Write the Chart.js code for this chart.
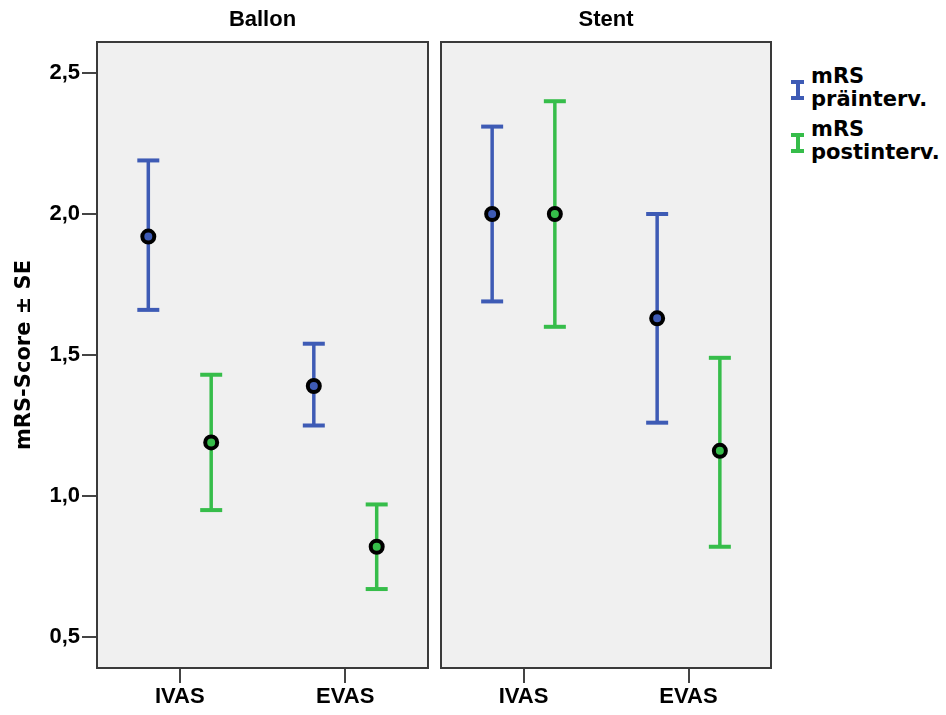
<!DOCTYPE html>
<html>
<head>
<meta charset="utf-8">
<script src="https://cdn.jsdelivr.net/npm/chart.js@4/dist/chart.umd.min.js"></script>
<style>
    body { margin: 0; background: #fff; }
    #wrap { position: relative; width: 946px; height: 715px; }
    canvas { position: absolute; top: 0; }
    #legend { position: absolute; left: 791px; top: 65px; font-family: "DejaVu Sans", Verdana, sans-serif; font-weight: bold; font-size: 21px; line-height: 23px; color: #000; }
    .item { display: flex; margin-bottom: 7px; }
    .icon { position: relative; width: 13px; height: 20px; margin-top: 15px; margin-right: 7px; flex: none; }
    .icon::before { content: ''; position: absolute; left: 0; right: 0; top: 0; height: 4px; background: currentColor; box-shadow: 0 16px 0 currentColor; }
    .icon::after { content: ''; position: absolute; left: 4.5px; width: 4px; top: 0; bottom: 0; background: currentColor; }
</style>
</head>
<body>
<div id="wrap">
    <canvas id="ballonChart" width="432" height="715" style="left:0"></canvas>
    <canvas id="stentChart" width="338" height="715" style="left:437px"></canvas>
    <div id="legend">
        <div class="item"><span class="icon" style="color:#3e5bb5"></span><span>mRS<br>präinterv.</span></div>
        <div class="item"><span class="icon" style="color:#36bd4a"></span><span>mRS<br>postinterv.</span></div>
    </div>
</div>
<script>
const categories = ['IVAS', 'EVAS'];
const panelTitles = ['Ballon', 'Stent'];
const yTicks = [0.5, 1.0, 1.5, 2.0, 2.5];

// Ballon: mean and mean ± SE per category
const ballonPreMean = [1.92, 1.39];
const ballonPreLow = [1.66, 1.25];
const ballonPreHigh = [2.19, 1.54];
const ballonPostMean = [1.19, 0.82];
const ballonPostLow = [0.95, 0.67];
const ballonPostHigh = [1.43, 0.97];

// Stent
const stentPreMean = [2.00, 1.63];
const stentPreLow = [1.69, 1.26];
const stentPreHigh = [2.31, 2.00];
const stentPostMean = [2.00, 1.16];
const stentPostLow = [1.60, 0.82];
const stentPostHigh = [2.40, 1.49];

const preColor = '#3e5bb5';
const postColor = '#36bd4a';
const tickFamily = '"Liberation Sans", Arial, sans-serif';
const titleFamily = '"DejaVu Sans", Verdana, sans-serif';

// background + frame of each panel
const framePlugin = {
    id: 'frame',
    beforeDraw(chart) {
        const a = chart.chartArea;
        const ctx = chart.ctx;
        ctx.save();
        ctx.fillStyle = '#f0f0f0';
        ctx.fillRect(a.left, a.top, a.right - a.left, a.bottom - a.top);
        ctx.restore();
    },
    afterDraw(chart) {
        const a = chart.chartArea;
        const ctx = chart.ctx;
        ctx.save();
        ctx.strokeStyle = '#3a3a3a';
        ctx.lineWidth = 2;
        ctx.strokeRect(a.left, a.top, a.right - a.left, a.bottom - a.top);
        ctx.restore();
    }
};

function errorBars(mean, low, high, shift, color) {
    const sets = [];
    categories.forEach(function(c, i) {
        const x = i + 0.5 + shift;
        sets.push({
            type: 'line',
            data: [{ x: x, y: low[i] }, { x: x, y: high[i] }],
            borderColor: color,
            borderWidth: 3.5,
            pointStyle: 'line',
            pointRadius: 11,
            pointBorderWidth: 4,
            pointBorderColor: color,
            order: 2
        });
    });
    sets.push({
        type: 'scatter',
        data: categories.map((c, i) => ({ x: i + 0.5 + shift, y: mean[i] })),
        pointRadius: 6,
        pointBorderWidth: 4,
        borderColor: '#000',
        backgroundColor: color,
        order: 1
    });
    return sets;
}

function makePanel(canvasId, title, pre, post, showY) {
    const tickFont = { family: tickFamily, size: 22, weight: 'bold' };
    new Chart(document.getElementById(canvasId).getContext('2d'), {
        type: 'scatter',
        data: {
            datasets: errorBars(pre[0], pre[1], pre[2], -0.19, preColor)
                .concat(errorBars(post[0], post[1], post[2], 0.19, postColor))
        },
        options: {
            responsive: false,
            animation: false,
            events: [],
            layout: {
                autoPadding: false,
                padding: { left: showY ? 0 : 4, right: 4, top: 0, bottom: 0 }
            },
            plugins: {
                legend: { display: false },
                tooltip: { enabled: false }
            },
            scales: {
                x: {
                    type: 'linear',
                    min: 0,
                    max: 2,
                    afterBuildTicks: s => { s.ticks = categories.map((c, i) => ({ value: i + 0.5 })); },
                    ticks: {
                        callback: (v, i) => categories[i],
                        font: tickFont,
                        color: '#000',
                        padding: 1,
                        maxRotation: 0
                    },
                    grid: { drawOnChartArea: false, drawTicks: true, tickLength: 15, color: '#444', lineWidth: 2 },
                    border: { display: false },
                    afterFit: s => { s.height = 47; s.paddingLeft = 0; s.paddingRight = 0; }
                },
                x2: {
                    type: 'linear',
                    position: 'top',
                    display: true,
                    ticks: { display: false },
                    grid: { display: false },
                    border: { display: false },
                    title: {
                        display: true,
                        text: title,
                        color: '#000',
                        font: tickFont,
                        padding: { top: 7, bottom: 0 }
                    },
                    afterFit: s => { s.height = 42; s.paddingLeft = 0; s.paddingRight = 0; }
                },
                y: {
                    type: 'linear',
                    display: showY,
                    min: 0.39,
                    max: 2.61,
                    afterBuildTicks: s => { s.ticks = yTicks.map(v => ({ value: v })); },
                    ticks: {
                        callback: v => v.toFixed(1).replace('.', ','),
                        font: tickFont,
                        color: '#000',
                        padding: 2
                    },
                    grid: { drawOnChartArea: false, drawTicks: true, tickLength: 15, color: '#444', lineWidth: 2 },
                    border: { display: false },
                    title: {
                        display: true,
                        text: 'mRS-Score ± SE',
                        color: '#000',
                        font: { family: titleFamily, size: 21, weight: 'bold' },
                        padding: { top: 12, bottom: 0 }
                    },
                    afterFit: s => { s.width = showY ? 97 : 0; s.paddingTop = 0; s.paddingBottom = 0; }
                }
            }
        },
        plugins: [framePlugin]
    });
}

makePanel('ballonChart', panelTitles[0],
    [ballonPreMean, ballonPreLow, ballonPreHigh],
    [ballonPostMean, ballonPostLow, ballonPostHigh], true);
makePanel('stentChart', panelTitles[1],
    [stentPreMean, stentPreLow, stentPreHigh],
    [stentPostMean, stentPostLow, stentPostHigh], false);
</script>
</body>
</html>
